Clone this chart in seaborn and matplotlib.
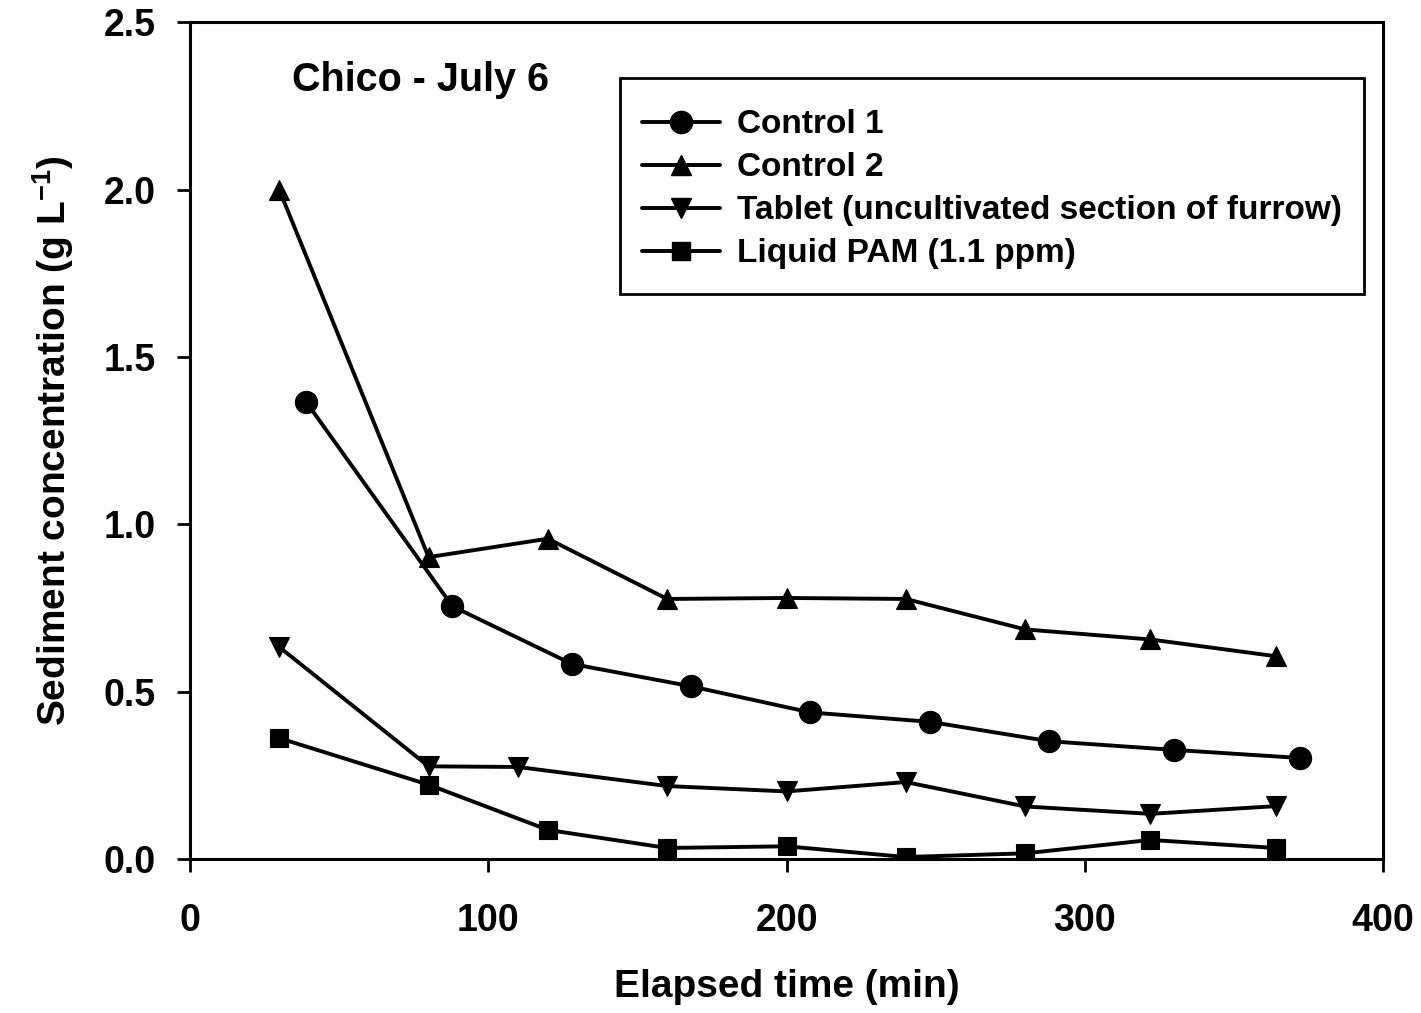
import matplotlib
matplotlib.use('Agg')
import matplotlib.pyplot as plt
from matplotlib.lines import Line2D
from matplotlib.patches import Rectangle
import seaborn as sns
import pandas as pd

# dados (tempo em min, concentração em g/L)
x_control1 = [39, 88, 128, 168, 208, 248, 288, 330, 372]
y_control1 = [1.365, 0.755, 0.583, 0.516, 0.438, 0.410, 0.352, 0.326, 0.302]

x_control2 = [30, 80, 120, 160, 200, 240, 280, 322, 364]
y_control2 = [1.998, 0.902, 0.957, 0.777, 0.780, 0.777, 0.686, 0.656, 0.606]

x_tablet = [30, 80, 110, 160, 200, 240, 280, 322, 364]
y_tablet = [0.633, 0.277, 0.275, 0.218, 0.202, 0.230, 0.157, 0.135, 0.158]

x_pam = [30, 80, 120, 160, 200, 240, 280, 322, 364]
y_pam = [0.361, 0.222, 0.087, 0.033, 0.038, 0.006, 0.017, 0.057, 0.033]

labels = ['Control 1', 'Control 2', 'Tablet (uncultivated section of furrow)',
          'Liquid PAM (1.1 ppm)']
markers = ['o', '^', 'v', 's']
msizes = [16, 14, 14, 13.5]

sns.set_style('ticks')
plt.rcParams['font.family'] = ['Liberation Sans', 'DejaVu Sans']
plt.rcParams['font.weight'] = 'bold'
plt.rcParams['axes.labelweight'] = 'bold'
plt.rcParams['text.color'] = 'black'
plt.rcParams['axes.labelcolor'] = 'black'
plt.rcParams['xtick.color'] = 'black'
plt.rcParams['ytick.color'] = 'black'
plt.rcParams['mathtext.fontset'] = 'custom'
plt.rcParams['mathtext.rm'] = 'Liberation Sans:bold'
plt.rcParams['mathtext.bf'] = 'Liberation Sans:bold'

fig = plt.figure(figsize=(14.21, 10.13), dpi=100)
ax = fig.add_axes([0.1337, 0.152, 0.8396, 0.826])

series = [(x_control1, y_control1), (x_control2, y_control2),
          (x_tablet, y_tablet), (x_pam, y_pam)]

handles = []
for (xs, ys), lab, mk, ms in zip(series, labels, markers, msizes):
    df = pd.DataFrame({'t': xs, 'c': ys})
    sns.lineplot(data=df, x='t', y='c', ax=ax, color='black', linewidth=2.8,
                 marker=mk, markersize=ms, markeredgecolor='black',
                 markeredgewidth=0.8, sort=False, legend=False)
    handles.append(Line2D([], [], color='black', linewidth=2.8, marker=mk,
                          markersize=ms, markeredgecolor='black', label=lab))

ax.set_xlim(0, 400)
ax.set_ylim(0, 2.5)
ax.set_xticks([0, 100, 200, 300, 400])
ax.set_yticks([0.0, 0.5, 1.0, 1.5, 2.0, 2.5])
ax.set_yticklabels(['0.0', '0.5', '1.0', '1.5', '2.0', '2.5'])

for s in ax.spines.values():
    s.set_linewidth(2.2)
    s.set_color('black')
ax.tick_params(axis='both', direction='out', length=9.5, width=2.0,
               labelsize=27, colors='black')
ax.tick_params(axis='x', pad=22)
ax.tick_params(axis='y', pad=15)
for t in ax.get_xticklabels() + ax.get_yticklabels():
    t.set_fontweight('bold')

ax.set_xlabel('Elapsed time (min)', fontsize=28, fontweight='bold', labelpad=22)
ax.set_ylabel(r'Sediment concentration (g L$^{\mathbf{-1}}$)', fontsize=28,
              fontweight='bold', labelpad=20)

ax.text(0.0855, 0.9307, 'Chico - July 6', transform=ax.transAxes,
        fontsize=28.5, fontweight='bold', va='center', ha='left')

# caixa da legenda desenhada à parte
ax.add_patch(Rectangle((0.3604, 0.675), 0.6236, 0.258, transform=ax.transAxes,
                       fill=False, edgecolor='black', linewidth=2.0, zorder=5))

leg = ax.legend(handles=handles, loc='upper left', bbox_to_anchor=(0.3789, 0.896),
                frameon=False, fontsize=24,
                handlelength=2.35, handletextpad=0.5, borderpad=0,
                labelspacing=0.36, borderaxespad=0)
for t in leg.get_texts():
    t.set_fontweight('bold')

fig.savefig('out.png', dpi=100)
